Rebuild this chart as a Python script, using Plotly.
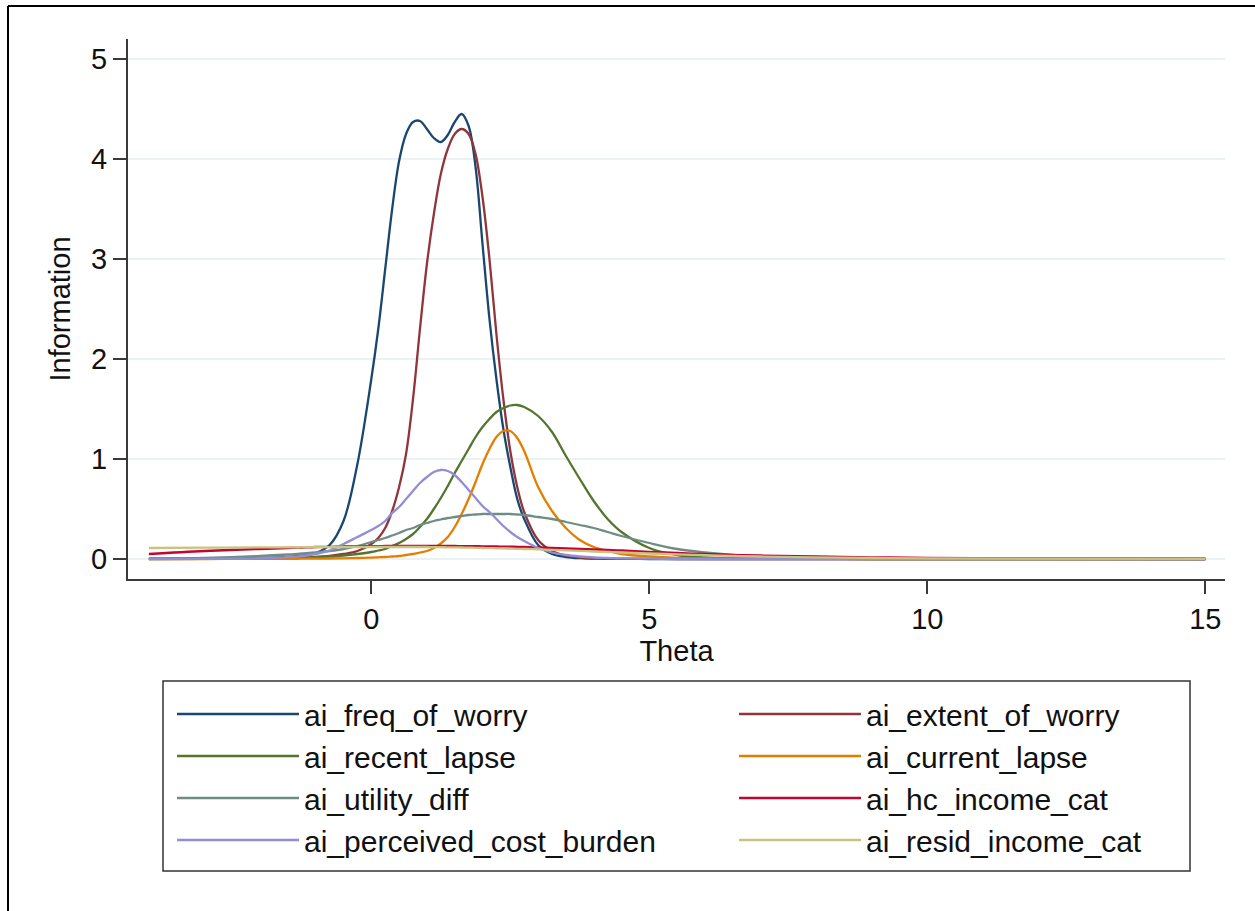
import plotly.graph_objects as go

# Theta grid at which the item information curves are tabulated
theta = [-4, -3, -2, -1.5, -1.25, -1, -0.75, -0.5, -0.25,
         0, 0.125, 0.25, 0.375, 0.5, 0.625, 0.75, 0.875, 1, 1.125, 1.25, 1.375,
         1.5, 1.625, 1.75, 1.875, 2, 2.125, 2.25, 2.375, 2.5, 2.625, 2.75,
         3, 3.25, 3.5, 3.75, 4, 4.25, 4.5,
         5, 5.5, 6, 6.5, 7, 8, 9, 10, 12, 15]

ai_freq_of_worry = [0.002, 0.004, 0.01, 0.02, 0.035, 0.06, 0.14, 0.38, 0.95,
                    1.80, 2.30, 2.90, 3.50, 3.98, 4.25, 4.37, 4.38, 4.30, 4.21, 4.17, 4.24,
                    4.37, 4.45, 4.33, 3.92, 3.15, 2.40, 1.80, 1.30, 0.92, 0.60, 0.40,
                    0.14, 0.05, 0.02, 0.008, 0.004, 0.002, 0.001,
                    0, 0, 0, 0, 0, 0, 0, 0, 0, 0]

ai_extent_of_worry = [0.001, 0.002, 0.005, 0.01, 0.015, 0.02, 0.03, 0.05, 0.08,
                      0.15, 0.21, 0.31, 0.48, 0.72, 1.05, 1.60, 2.30, 2.95, 3.45, 3.85, 4.10,
                      4.25, 4.30, 4.25, 4.05, 3.62, 3.00, 2.25, 1.60, 1.08, 0.72, 0.47,
                      0.19, 0.08, 0.035, 0.015, 0.007, 0.004, 0.002,
                      0.001, 0, 0, 0, 0, 0, 0, 0, 0, 0]

ai_recent_lapse = [0.0, 0.002, 0.005, 0.01, 0.013, 0.018, 0.025, 0.035, 0.05,
                   0.07, 0.085, 0.10, 0.13, 0.16, 0.20, 0.25, 0.32, 0.40, 0.50, 0.61, 0.73,
                   0.86, 0.98, 1.10, 1.22, 1.32, 1.40, 1.47, 1.51, 1.535, 1.54, 1.52,
                   1.43, 1.27, 1.03, 0.80, 0.58, 0.40, 0.27,
                   0.11, 0.04, 0.015, 0.006, 0.003, 0.001, 0, 0, 0, 0]

ai_current_lapse = [0, 0, 0.001, 0.002, 0.003, 0.004, 0.005, 0.007, 0.01,
                    0.014, 0.017, 0.02, 0.025, 0.03, 0.04, 0.05, 0.065, 0.08, 0.11, 0.155, 0.22,
                    0.32, 0.45, 0.60, 0.77, 0.95, 1.10, 1.22, 1.28, 1.28, 1.21, 1.08,
                    0.72, 0.48, 0.31, 0.19, 0.12, 0.08, 0.05,
                    0.025, 0.012, 0.006, 0.003, 0.002, 0.001, 0, 0, 0, 0]

ai_utility_diff = [0.005, 0.012, 0.03, 0.045, 0.055, 0.065, 0.08, 0.10, 0.13,
                   0.17, 0.19, 0.21, 0.235, 0.26, 0.29, 0.31, 0.34, 0.36, 0.38, 0.395, 0.41,
                   0.42, 0.43, 0.44, 0.445, 0.45, 0.45, 0.45, 0.45, 0.45, 0.445, 0.44,
                   0.42, 0.40, 0.37, 0.34, 0.31, 0.27, 0.23,
                   0.16, 0.10, 0.065, 0.04, 0.025, 0.01, 0.004, 0.002, 0.0005, 0]

ai_hc_income_cat = [0.05, 0.08, 0.10, 0.11, 0.115, 0.12, 0.122, 0.125, 0.127,
                    0.128, 0.129, 0.13, 0.13, 0.13, 0.13, 0.13, 0.13, 0.13, 0.13, 0.13, 0.13,
                    0.13, 0.129, 0.128, 0.128, 0.127, 0.126, 0.125, 0.124, 0.123, 0.122, 0.12,
                    0.115, 0.11, 0.105, 0.10, 0.095, 0.09, 0.085,
                    0.07, 0.06, 0.05, 0.042, 0.035, 0.025, 0.017, 0.012, 0.005, 0.002]

ai_perceived_cost_burden = [0.0, 0.002, 0.008, 0.018, 0.03, 0.05, 0.085, 0.15, 0.22,
                            0.29, 0.33, 0.38, 0.46, 0.52, 0.60, 0.68, 0.76, 0.82, 0.87, 0.89, 0.88,
                            0.84, 0.77, 0.69, 0.61, 0.53, 0.47, 0.40, 0.33, 0.27, 0.22, 0.18,
                            0.11, 0.065, 0.04, 0.025, 0.015, 0.01, 0.006,
                            0.003, 0.001, 0, 0, 0, 0, 0, 0, 0, 0]

ai_resid_income_cat = [0.11, 0.113, 0.116, 0.117, 0.118, 0.118, 0.119, 0.119, 0.12,
                       0.12, 0.12, 0.12, 0.12, 0.12, 0.12, 0.12, 0.12, 0.12, 0.119, 0.118, 0.117,
                       0.116, 0.115, 0.114, 0.112, 0.11, 0.109, 0.107, 0.106, 0.104, 0.102, 0.10,
                       0.097, 0.092, 0.087, 0.081, 0.075, 0.07, 0.065,
                       0.055, 0.046, 0.038, 0.031, 0.025, 0.016, 0.01, 0.007, 0.003, 0.001]

series_names = ["ai_freq_of_worry", "ai_extent_of_worry", "ai_recent_lapse",
                "ai_current_lapse", "ai_utility_diff", "ai_hc_income_cat",
                "ai_perceived_cost_burden", "ai_resid_income_cat"]
series_values = [ai_freq_of_worry, ai_extent_of_worry, ai_recent_lapse,
                 ai_current_lapse, ai_utility_diff, ai_hc_income_cat,
                 ai_perceived_cost_burden, ai_resid_income_cat]
series_colors = ["#1a476f", "#90353b", "#55752f", "#e37e00",
                 "#6e8e84", "#c10534", "#938dd2", "#cac27e"]

x_ticks = [0, 5, 10, 15]
y_ticks = [0, 1, 2, 3, 4, 5]

W, H = 1255, 911
ML, MR, MT, MB = 128, 30, 39, 332
PW, PH = W - ML - MR, H - MT - MB
FONT = "Liberation Sans, Arial, sans-serif"
TXT = "#111111"


def fx(px):
    return (px - ML) / PW


def fy(py):
    return (H - MB - py) / PH


fig = go.Figure()
for i, (name, vals, col) in enumerate(zip(series_names, series_values, series_colors)):
    # legend keys run across two columns, row by row
    fig.add_trace(go.Scatter(
        x=theta, y=vals, name=name, mode="lines",
        line=dict(color=col, width=2.3, shape="spline", smoothing=1.0),
        legend="legend" if i % 2 == 0 else "legend2",
    ))

axis_common = dict(
    showline=True, linecolor="#3a3a3a", linewidth=2,
    ticks="outside", ticklen=13, tickwidth=1.5, tickcolor="#3a3a3a",
    tickfont=dict(family=FONT, size=29, color=TXT),
    zeroline=False,
)

fig.update_xaxes(
    range=[-4.376, 15.354], tickvals=x_ticks, showgrid=False,
    title=dict(text="Theta", font=dict(family=FONT, size=29, color=TXT), standoff=0),
    **axis_common,
)
fig.update_yaxes(
    range=[-0.2, 5.2], tickvals=y_ticks, showgrid=True,
    gridcolor="#eaf2f3", gridwidth=2,
    title=dict(text="Information", font=dict(family=FONT, size=29, color=TXT), standoff=12),
    **axis_common,
)

# outer frame of the graph region (left and top edges)
fig.add_shape(type="line", xref="paper", yref="paper",
              x0=fx(8), x1=fx(8), y0=fy(6), y1=fy(H + 20),
              line=dict(color="black", width=2))
fig.add_shape(type="line", xref="paper", yref="paper",
              x0=fx(8), x1=fx(W + 20), y0=fy(6), y1=fy(6),
              line=dict(color="black", width=2))

# legend box enclosing both key columns
fig.add_shape(type="rect", xref="paper", yref="paper",
              x0=fx(163), x1=fx(1190), y0=fy(681), y1=fy(871),
              line=dict(color="#333333", width=1.5), fillcolor="rgba(0,0,0,0)")

legend_common = dict(
    orientation="v", xanchor="left", yanchor="top",
    y=fy(688), borderwidth=0, bgcolor="rgba(0,0,0,0)",
    font=dict(family=FONT, size=30, color=TXT),
    itemwidth=122, traceorder="normal",
)

fig.update_layout(
    width=W, height=H,
    margin=dict(l=ML, r=MR, t=MT, b=MB, pad=0),
    paper_bgcolor="white", plot_bgcolor="white",
    font=dict(family=FONT, color=TXT),
    showlegend=True,
    legend=dict(x=fx(172), **legend_common),
    legend2=dict(x=fx(734), **legend_common),
)

fig.write_html("out.html")
